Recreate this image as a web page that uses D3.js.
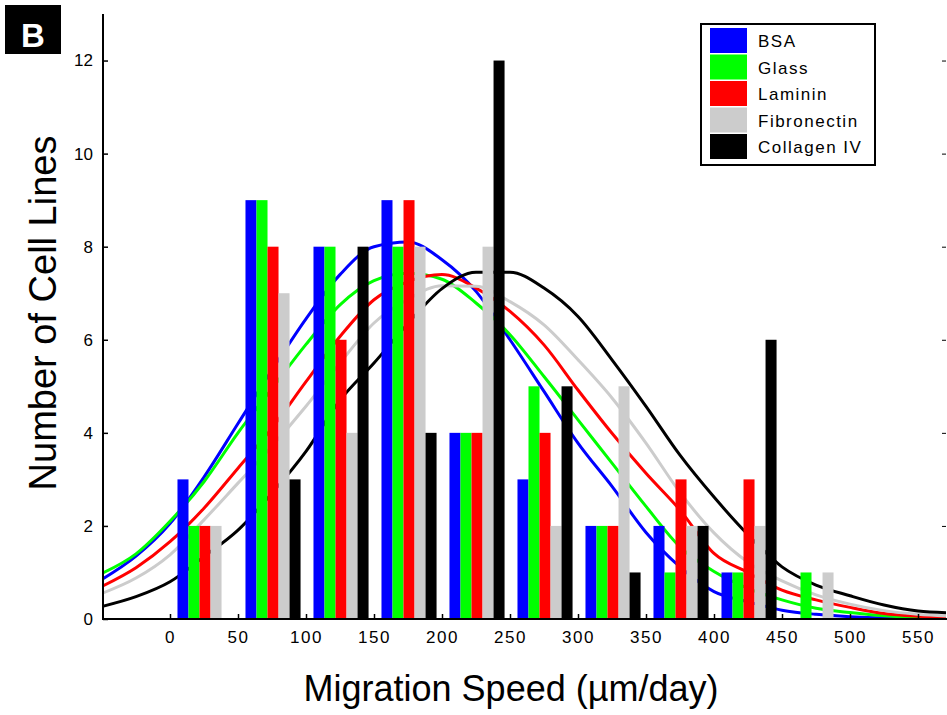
<!DOCTYPE html>
<html>
<head>
<meta charset="utf-8">
<script src="https://cdn.jsdelivr.net/npm/d3@7"></script>
<style>
  body { margin: 0; background: #fff; }
  text { font-family: "Liberation Sans", Arial, sans-serif; fill: #000; }
</style>
</head>
<body>
<div id="drawing"></div>
<script>
// histogram bins (lower edge, µm/day) and counts per substrate
var binStarts = [0, 50, 100, 150, 200, 250, 300, 350, 400, 450];
var seriesNames = ["BSA", "Glass", "Laminin", "Fibronectin", "Collagen IV"];
var seriesColors = ["#0000ff", "#00ff00", "#ff0000", "#cccccc", "#000000"];

var bsaCounts = [3, 9, 8, 9, 4, 3, 2, 2, 1, 0];
var glassCounts = [2, 9, 8, 8, 4, 5, 2, 1, 1, 1];
var lamininCounts = [2, 8, 6, 9, 4, 4, 2, 3, 3, 0];
var fibronectinCounts = [2, 7, 4, 8, 8, 2, 5, 2, 2, 1];
var collagenCounts = [0, 3, 8, 4, 12, 5, 1, 2, 6, 0];

// fitted curves, every 25 µm/day
var curveX = [-50, -25, 0, 25, 50, 75, 100, 125, 150, 175, 200, 225, 250,
              275, 300, 325, 350, 375, 400, 425, 450, 475, 500, 525, 550, 575];
var bsaCurve = [0.85, 1.35, 2.05, 3.05, 4.2, 5.35, 6.45, 7.4, 8.0, 8.1, 7.72, 7.04, 6.0,
                4.89, 3.78, 2.85, 1.86, 1.12, 0.59, 0.37, 0.19, 0.1, 0.05, 0.02, 0.01, 0.0];
var glassCurve = [0.98, 1.4, 2.1, 2.95, 4.0, 4.95, 5.9, 6.75, 7.27, 7.43, 7.3, 6.79, 6.11,
                  5.21, 4.28, 3.35, 2.42, 1.55, 1.02, 0.66, 0.41, 0.23, 0.14, 0.07, 0.03, 0.02];
var lamininCurve = [0.7, 1.1, 1.66, 2.38, 3.24, 4.1, 5.1, 6.07, 6.86, 7.25, 7.4, 7.11, 6.61,
                    5.89, 4.92, 3.99, 3.13, 2.34, 1.41, 1.0, 0.62, 0.41, 0.25, 0.12, 0.06, 0.03];
var fibronectinCurve = [0.55, 0.88, 1.38, 2.13, 2.92, 3.71, 4.57, 5.5, 6.36, 6.87, 7.16, 7.15, 6.82,
                        6.32, 5.57, 4.75, 3.78, 2.72, 1.85, 1.22, 0.82, 0.52, 0.32, 0.18, 0.1, 0.06];
var collagenCurve = [0.27, 0.48, 0.8, 1.34, 1.91, 2.7, 3.6, 4.7, 5.5, 6.35, 7.1, 7.45, 7.45,
                     7.11, 6.5, 5.57, 4.57, 3.52, 2.62, 1.81, 1.12, 0.73, 0.5, 0.3, 0.17, 0.13];

var xTicks = [0, 50, 100, 150, 200, 250, 300, 350, 400, 450, 500, 550];
var yTicks = [0, 2, 4, 6, 8, 10, 12];

var width = 947;
var height = 715;
var plot = {left: 103, right: 946, top: 14, bottom: 619};

var counts = [bsaCounts, glassCounts, lamininCounts, fibronectinCounts, collagenCounts];
var curves = [bsaCurve, glassCurve, lamininCurve, fibronectinCurve, collagenCurve];

var drawing = d3.select("#drawing").append("svg")
  .attr("width", width)
  .attr("height", height)
  .style("background", "#fff");

var xScale = d3.scaleLinear().domain([0, 550]).range([170, 918]);
var yScale = d3.scaleLinear().domain([0, 13]).range([plot.bottom, plot.top]);

// bars sit inside each 50-wide bin, in data units
var inner = d3.scaleBand().domain(seriesNames).range([5.5, 46]);

drawing.append("clipPath").attr("id", "plotClip")
  .append("rect")
  .attr("x", plot.left).attr("y", plot.top)
  .attr("width", plot.right - plot.left).attr("height", plot.bottom - plot.top);

// fitted curves underneath the bars
var lineGen = d3.line()
  .x((d) => xScale(d[0]))
  .y((d) => yScale(d[1]))
  .curve(d3.curveMonotoneX);

drawing.append("g").attr("clip-path", "url(#plotClip)")
  .selectAll("path")
  .data(curves)
  .join("path")
  .attr("d", (c) => lineGen(curveX.map((x, i) => [x, c[i]])))
  .style("fill", "none")
  .style("stroke", (c, i) => seriesColors[i])
  .style("stroke-width", 3);

// bars
var barData = [];
seriesNames.forEach((name, s) => {
  binStarts.forEach((b, i) => {
    barData.push({name: name, s: s, bin: b, v: counts[s][i]});
  });
});

drawing.append("g")
  .selectAll("rect")
  .data(barData.filter((d) => d.v > 0))
  .join("rect")
  .attr("x", (d) => xScale(d.bin + inner(d.name)))
  .attr("width", (d) => xScale(d.bin + inner(d.name) + inner.bandwidth()) - xScale(d.bin + inner(d.name)))
  .attr("y", (d) => yScale(d.v))
  .attr("height", (d) => yScale(0) - yScale(d.v))
  .style("fill", (d) => seriesColors[d.s]);

// axes
var xAxis = d3.axisBottom(xScale).tickValues(xTicks).tickSize(-5).tickPadding(12);
var gx = drawing.append("g")
  .attr("transform", `translate(0, ${plot.bottom})`)
  .call(xAxis);
gx.select(".domain").remove();
gx.selectAll(".tick line").style("stroke-width", 1.5);
gx.selectAll(".tick text")
  .style("font-size", "17px")
  .style("letter-spacing", "1.6px");
drawing.append("line")
  .attr("x1", plot.left).attr("x2", width)
  .attr("y1", plot.bottom).attr("y2", plot.bottom)
  .style("stroke", "#000").style("stroke-width", 2);

var yAxis = d3.axisLeft(yScale).tickValues(yTicks).tickSize(-5).tickPadding(10);
var gy = drawing.append("g")
  .attr("transform", `translate(${plot.left}, 0)`)
  .call(yAxis);
gy.select(".domain").remove();
gy.selectAll(".tick line").style("stroke-width", 1.5);
gy.selectAll(".tick text").style("font-size", "17px");
drawing.append("line")
  .attr("x1", plot.left).attr("x2", plot.left)
  .attr("y1", plot.top).attr("y2", plot.bottom + 1)
  .style("stroke", "#000").style("stroke-width", 2);

// right-hand inward ticks
var gr = drawing.append("g")
  .attr("transform", `translate(${plot.right}, 0)`)
  .call(d3.axisRight(yScale).tickValues(yTicks.slice(1)).tickSize(-4).tickFormat(""));
gr.select(".domain").remove();

// axis titles
drawing.append("text")
  .attr("x", 511).attr("y", 701)
  .attr("text-anchor", "middle")
  .style("font-size", "36px")
  .text("Migration Speed (µm/day)");

drawing.append("text")
  .attr("transform", "translate(56, 313) rotate(-90)")
  .attr("text-anchor", "middle")
  .style("font-size", "38px")
  .text("Number of Cell Lines");

// panel label
drawing.append("rect")
  .attr("x", 5).attr("y", 5).attr("width", 56).attr("height", 49)
  .style("fill", "#000");
drawing.append("text")
  .attr("x", 33).attr("y", 46.5)
  .attr("text-anchor", "middle")
  .style("font-size", "33px").style("font-weight", "bold").style("fill", "#fff")
  .text("B");

// legend
var legend = drawing.append("g");
legend.append("rect")
  .attr("x", 701).attr("y", 24).attr("width", 174).attr("height", 141)
  .style("fill", "#fff").style("stroke", "#000").style("stroke-width", 2);

var rows = legend.selectAll("g.row")
  .data(seriesNames)
  .join("g")
  .attr("class", "row")
  .attr("transform", (d, i) => `translate(710, ${28 + i * 26.5})`);
rows.append("rect")
  .attr("width", 37).attr("height", 25)
  .style("fill", (d, i) => seriesColors[i]);
rows.append("text")
  .attr("x", 48).attr("y", 19)
  .style("font-size", "17px")
  .style("letter-spacing", "1.5px")
  .text((d) => d);
</script>
</body>
</html>
